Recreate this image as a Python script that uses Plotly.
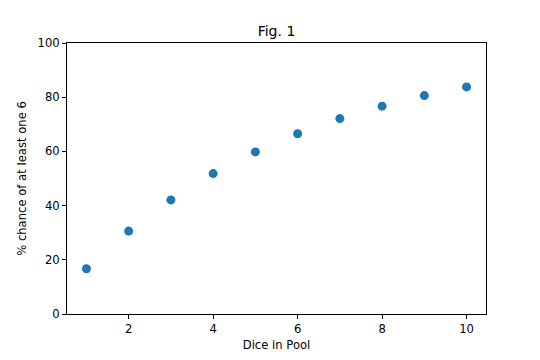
import plotly.graph_objects as go

dice = [1, 2, 3, 4, 5, 6, 7, 8, 9, 10]
chance = [16.7, 30.6, 42.1, 51.8, 59.8, 66.5, 72.1, 76.7, 80.6, 83.8]

FONT = "DejaVu Sans"
OFF = 8  # page body margin offset

fig = go.Figure(go.Scatter(
    x=dice, y=chance, mode="markers",
    marker=dict(color="#1f77b4", size=9, line=dict(width=0)),
))

axis_common = dict(
    showline=True, linecolor="black", linewidth=1, mirror=True,
    ticks="outside", ticklen=4, tickcolor="black", tickwidth=1,
    showgrid=False, zeroline=False, automargin=False,
    tickfont=dict(family=FONT, size=11.6, color="black"),
)

fig.update_layout(
    width=540, height=360,
    margin=dict(l=67 - OFF, r=54 + OFF, t=43 - OFF, b=46 + OFF),
    paper_bgcolor="white", plot_bgcolor="white",
    title=dict(text="Fig. 1", x=0.5, xref="paper", xanchor="center",
               y=1 - (31 - OFF) / 360, yref="container", yanchor="middle",
               font=dict(family=FONT, size=14, color="black")),
    xaxis=dict(range=[0.54, 10.46], tickvals=[2, 4, 6, 8, 10],
               title=dict(text="Dice in Pool", standoff=5,
                          font=dict(family=FONT, size=11.6, color="black")),
               **axis_common),
    yaxis=dict(range=[0, 100], tickvals=[0, 20, 40, 60, 80, 100],
               title=dict(text="% chance of at least one 6", standoff=8,
                          font=dict(family=FONT, size=11.6, color="black")),
               **axis_common),
    showlegend=False,
)

fig.write_html("out.html")
